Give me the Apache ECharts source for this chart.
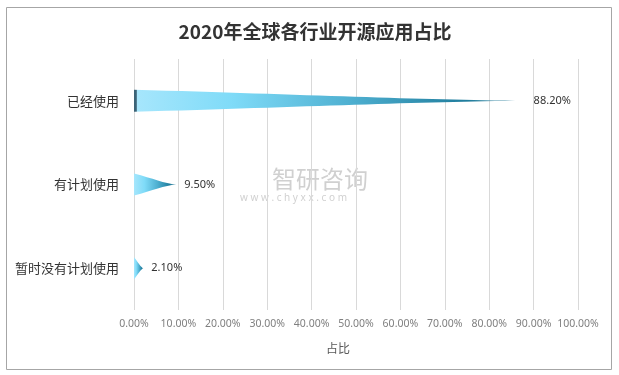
<!DOCTYPE html>
<html><head><meta charset="utf-8">
<script src="https://cdn.jsdelivr.net/npm/echarts@6/dist/echarts.min.js"></script>
<style>html,body{margin:0;padding:0;background:#fff}#c{width:619px;height:375px}</style>
</head><body><div id="c"></div>
<script>
const categories = ['已经使用', '有计划使用', '暂时没有计划使用'];
const values = [88.2, 9.5, 2.1];
const xTicks = [0, 10, 20, 30, 40, 50, 60, 70, 80, 90, 100];
const titleText = '2020年全球各行业开源应用占比';
const axisName = '占比';

const hornPath = 'path://M0,0 C45,22 72,46 100,50 C72,54 45,78 0,100 Z';

function grad(edge) {
  const stops = [];
  if (edge) { stops.push({offset: 0, color: '#3b6377'}, {offset: 0.006, color: '#3b6377'}, {offset: 0.008, color: '#a6e6fc'}); }
  else { stops.push({offset: 0, color: '#a6e6fc'}); }
  stops.push({offset: 0.25, color: '#7fdbf8'}, {offset: 0.55, color: '#4fb0d1'}, {offset: 0.85, color: '#1f7c9c'}, {offset: 1, color: '#6fa6b9'});
  return {type: 'linear', x: 0, y: 0, x2: 1, y2: 0, colorStops: stops};
}

const chart = echarts.init(document.getElementById('c'), null, {renderer: 'canvas'});
chart.setOption({
  animation: false,
  backgroundColor: '#fff',
  title: {
    text: titleText, left: 310, top: 17, textAlign: 'center',
    textStyle: {fontFamily: 'Noto Sans CJK SC', fontWeight: 'bold', fontSize: 19, color: '#333'}
  },
  grid: {left: 134, right: 41, top: 59, bottom: 65},
  xAxis: {
    type: 'value', min: 0, max: 100, interval: 10,
    name: axisName, nameLocation: 'middle', nameGap: 32,
    nameTextStyle: {fontFamily: 'Noto Sans CJK SC', fontSize: 12, color: '#595959', padding: [0, 36, 0, 0]},
    axisLine: {show: false}, axisTick: {show: false},
    axisLabel: {margin: 9, fontFamily: 'Noto Sans', fontSize: 10.5, color: '#7f7f7f',
      formatter: v => xTicks.indexOf(v) >= 0 ? v.toFixed(2) + '%' : ''},
    splitLine: {show: true, lineStyle: {color: '#d9d9d9', width: 1}}
  },
  yAxis: {
    type: 'category', data: categories, inverse: true,
    axisLine: {show: false}, axisTick: {show: false},
    axisLabel: {margin: 15, fontFamily: 'Noto Sans CJK SC', fontSize: 13, color: '#333'}
  },
  series: [{
    type: 'pictorialBar',
    symbol: hornPath,
    symbolSize: ['100%', 22],
    symbolPosition: 'start',
    data: values.map((v, i) => ({value: v, itemStyle: {color: grad(i === 0)}})),
    label: {
      show: true, position: 'right', distance: 8,
      fontFamily: 'Noto Sans', fontSize: 11, color: '#333',
      formatter: p => p.value.toFixed(2) + '%'
    }
  }],
  graphic: [
    {type: 'rect', shape: {x: 6.5, y: 7.5, width: 605, height: 362}, style: {fill: 'none', stroke: '#a6a6a6', lineWidth: 1}, silent: true},
    {type: 'text', left: 272, top: 167, style: {text: '智研咨询', fontFamily: 'Noto Sans CJK SC', fontSize: 24, fill: 'rgba(150,150,150,0.45)'}, silent: true},
    {type: 'text', left: 240, top: 193, style: {text: 'w w w . c h y x x . c o m', fontFamily: 'Noto Sans', fontSize: 10, fill: 'rgba(150,150,150,0.45)'}, silent: true}
  ]
});
</script></body></html>
